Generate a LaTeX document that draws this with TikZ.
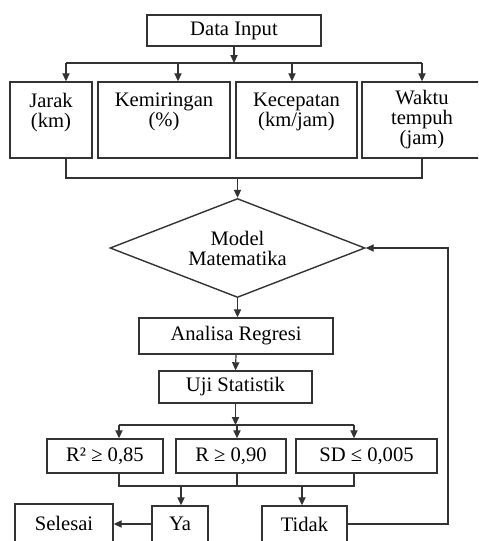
\documentclass[tikz,border=0pt]{standalone}
\usepackage{fontspec}
\setmainfont{Liberation Serif}
\usetikzlibrary{shapes, arrows.meta}

\begin{document}
\begin{tikzpicture}[x=0.5pt,y=-0.5pt,
  >={Triangle[length=4pt,width=3.6pt]},
  font=\fontsize{10.3}{10}\selectfont,
  box/.style={draw=black!80, line width=0.7pt, align=center, inner sep=0pt},
  line/.style={black!80, line width=0.6pt}]
\clip (0,0) rectangle (478,541);
%\draw [help lines, color=gray!30] (0,0) grid (478,541);
\node [box, minimum width=87pt, minimum height=15.5pt] (input) at (234,30.5) {Data Input};
\node [box, minimum width=41pt, minimum height=38pt] (jarak) at (51,120) {Jarak\\(km)\\\mbox{}};
\node [box, minimum width=66pt, minimum height=38pt] (miring) at (164,120) {Kemiringan\\(\%)\\\mbox{}};
\node [box, minimum width=60.5pt, minimum height=38pt] (cepat) at (296.5,120) {Kecepatan\\(km/jam)\\\mbox{}};
\node [box, minimum width=60pt, minimum height=38pt] (waktu) at (422,120) {Waktu\\tempuh\\(jam)};

\coordinate (top1) at (66,63);
\coordinate (top2) at (178,63);
\coordinate (top3) at (292,63);
\coordinate (top4) at (422,63);
\draw [->,line] (input.south) -- (input.south |- top1);
\draw [line] (top1) -- (top4);
\draw [->,line] (top1) -- (top1 |- jarak.north);
\draw [->,line] (top2) -- (top2 |- miring.north);
\draw [->,line] (top3) -- (top3 |- cepat.north);
\draw [->,line] (top4) -- (top4 |- waktu.north);

\coordinate (bot1) at (66,178);
\coordinate (bot2) at (237.5,178);
\coordinate (bot4) at (422,178);
\draw [line] (bot1 |- jarak.south) -- (bot1) -- (bot4) -- (bot4 |- waktu.south);

\node [box, diamond, aspect=2.58, minimum width=127.5pt, minimum height=49.5pt] (model) at (237.5,248) {Model\\Matematika};
\draw [->,line] (bot2) -- (model.north);

\node [box, minimum width=97pt, minimum height=18pt] (analisa) at (236,336) {Analisa Regresi};
\node [box, minimum width=76.5pt, minimum height=16pt] (uji) at (235.5,387) {Uji Statistik};
\draw [->,line] (model.south) -- (model.south |- analisa.north);
\draw [->,line] (analisa.south) -- (uji.north);

\node [box, minimum width=58pt, minimum height=17pt] (r2) at (105,456) {R² ≥ 0,85};
\node [box, minimum width=55pt, minimum height=17pt] (r) at (231,456) {R ≥ 0,90};
\node [box, minimum width=70.5pt, minimum height=17pt] (sd) at (366.5,456) {SD ≤ 0,005};

\coordinate (mid1) at (119,425);
\coordinate (mid2) at (237,425);
\coordinate (mid3) at (354,425);
\draw [->,line] (uji.south) -- (uji.south |- mid2);
\draw [line] (mid1) -- (mid3);
\draw [->,line] (mid1) -- (mid1 |- r2.north);
\draw [->,line] (mid2) -- (mid2 |- r.north);
\draw [->,line] (mid3) -- (mid3 |- sd.north);

\coordinate (low1) at (119,486);
\coordinate (low2) at (237,486);
\coordinate (low3) at (354,486);
\draw [line] (low1 |- r2.south) -- (low1) -- (low3) -- (low3 |- sd.south);
\draw [line] (low2 |- r.south) -- (low2);

\node [box, minimum width=28pt, minimum height=18pt] (ya) at (180,524) {Ya};
\node [box, minimum width=42.5pt, minimum height=18pt] (tidak) at (304.5,524) {Tidak};
\node [box, minimum width=49pt, minimum height=19pt] (selesai) at (64,523) {Selesai};

\coordinate (yes) at (181,486);
\coordinate (no) at (302,486);
\draw [->,line] (yes) -- (yes |- ya.north);
\draw [->,line] (no) -- (no |- tidak.north);
\draw [->,line] (ya.west) -- (ya.west -| selesai.east);

\coordinate (back) at (448,248);
\draw [->,line] (tidak.east) -| (back) -- (model.east);
\end{tikzpicture}
\end{document}
